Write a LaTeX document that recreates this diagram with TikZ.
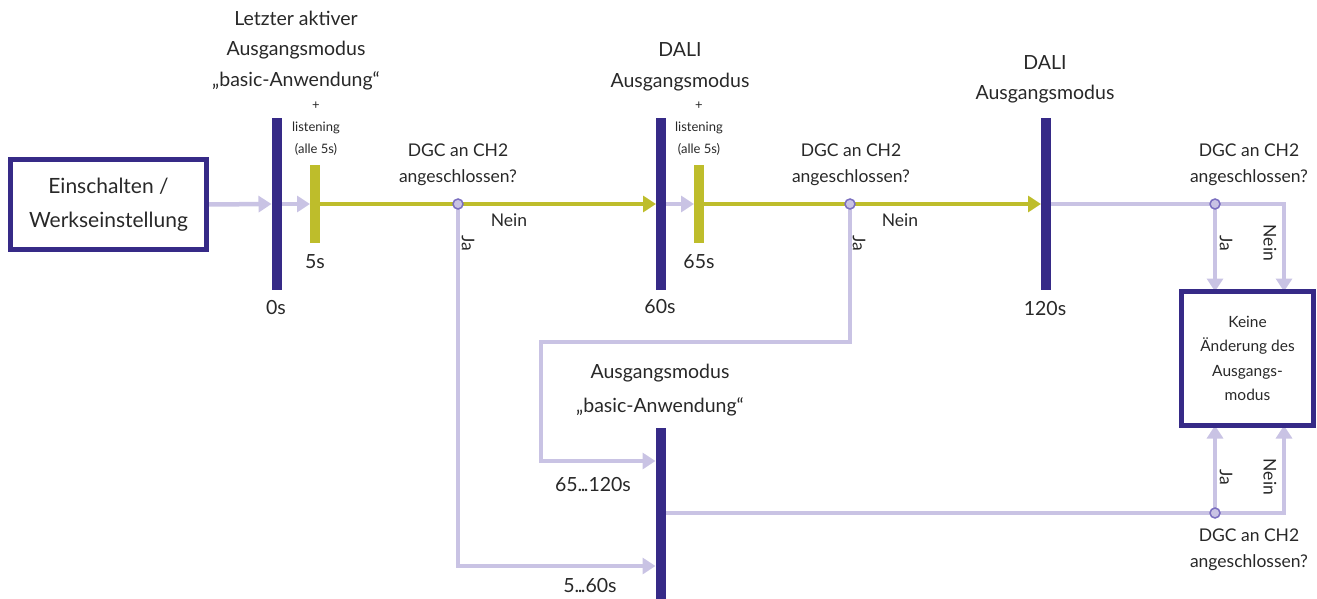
\documentclass[tikz,border=0pt]{standalone}
\usepackage{fontspec}
\setmainfont{Lato}
\usetikzlibrary{arrows.meta,backgrounds}
\definecolor{dpur}{RGB}{54,42,135}
\definecolor{lpur}{RGB}{201,195,228}
\definecolor{yel}{RGB}{190,189,43}
\definecolor{mpur}{RGB}{123,111,192}
\definecolor{txt}{RGB}{40,40,40}
\begin{document}
\begin{tikzpicture}[x=1pt,y=-1pt,
  every node/.style={text=txt, inner sep=0pt, outer sep=0pt},
  bar/.style={fill=dpur, minimum width=10pt, minimum height=172pt},
  ybar/.style={fill=yel, minimum width=10pt, minimum height=78pt},
  dot/.style={circle, fill=lpur, draw=mpur, line width=1.5pt, minimum size=10pt},
  lline/.style={draw=lpur, line width=4.5pt},
  yline/.style={draw=yel, line width=4.5pt},
  arr/.style={-{Triangle[length=13pt,width=16pt]}},
  big/.style={font=\fontsize{19.5}{30.5}\selectfont, align=center},
  bigb/.style={font=\fontsize{19.5}{34}\selectfont, align=center},
  mid/.style={font=\fontsize{17.5}{26}\selectfont, align=center},
  small/.style={font=\fontsize{13}{22}\selectfont, align=center},
  frame/.style={draw=dpur, line width=5pt, align=center}
]
\useasboundingbox (0,0) rectangle (1317,599);
% boxes
\node[frame, minimum width=196pt, minimum height=90pt, font=\fontsize{21}{34}\selectfont] (start) at (108.5,204.5) {Einschalten /\\Werkseinstellung};
\node[frame, minimum width=132pt, minimum height=134pt, font=\fontsize{15.5}{24.5}\selectfont] (box) at (1247.5,358.5) {Keine\\Änderung des\\Ausgangs-\\modus};
% bars
\node[bar] (b1) at (276.5,204) {};
\node[ybar] (y1) at (315,204) {};
\node[bar] (b2) at (661,204) {};
\node[ybar] (y2) at (699,204) {};
\node[bar] (b3) at (1046,204) {};
\node[bar] (b4) at (660.5,514) {};
% decision dots
\node[dot] (n1) at (458,204) {};
\node[dot] (n2) at (850,204) {};
\node[dot] (n3) at (1215,204) {};
\node[dot] (n4) at (1215,513) {};
% helper coordinates
\coordinate (k1) at (1284,204);
\coordinate (k2) at (1284,513);
\coordinate (k3) at (458,566);
\coordinate (k4) at (850,342);
\coordinate (k5) at (541,342);
\coordinate (k6) at (541,461);
% labels
\node[big] (t1) at (296,50.5) {Letzter aktiver\\Ausgangsmodus\\„basic-Anwendung“};
\node[small] (p1) at (316,129) {+\\listening\\(alle 5s)};
\node[mid] (q1) at (458,165) {DGC an CH2\\angeschlossen?};
\node[mid] (nein1) at (509,220) {Nein};
\node[mid, rotate=-90] (ja1) at (468,243) {Ja};
\node[big] (l0) at (276,308) {0s};
\node[big] (l5) at (315,262) {5s};
\node[big] (t2) at (680,67) {DALI\\Ausgangsmodus};
\node[small] (p2) at (699,129) {+\\listening\\(alle 5s)};
\node[big] (l60) at (660,307) {60s};
\node[big] (l65) at (699,262) {65s};
\node[mid] (q2) at (851,165) {DGC an CH2\\angeschlossen?};
\node[mid] (nein2) at (900,220) {Nein};
\node[mid, rotate=-90] (ja2) at (859,243) {Ja};
\node[big] (t3) at (1045,79.5) {DALI\\Ausgangsmodus};
\node[big] (l120) at (1045,309) {120s};
\node[mid] (q3) at (1249,165) {DGC an CH2\\angeschlossen?};
\node[mid, rotate=-90] (ja3) at (1226,243) {Ja};
\node[mid, rotate=-90] (nein3) at (1270,243) {Nein};
\node[mid, rotate=-90] (ja4) at (1226,477) {Ja};
\node[mid, rotate=-90] (nein4) at (1270,477) {Nein};
\node[mid] (q4) at (1249,550) {DGC an CH2\\angeschlossen?};
\node[bigb] (t4) at (660,390.5) {Ausgangsmodus\\„basic-Anwendung“};
\node[big] (l65b) at (593,485) {65.\kern-1.5pt.\kern-1.5pt.120s};
\node[big] (l5b) at (590,586) {5.\kern-1.5pt.\kern-1.5pt.60s};
% connectors
\begin{scope}[on background layer]
\draw[lline,arr] (start.east) -- (b1.west);
\draw[lline,arr] (b1.east) -- (y1.west);
\draw[yline,arr] (y1.east) -- (b2.west);
\draw[lline,arr] (b2.east) -- (y2.west);
\draw[yline,arr] (y2.east) -- (b3.west);
\draw[lline] (b3.east) -- (n3);
\draw[lline,arr] (n3) -- (n3 |- box.north);
\draw[lline,arr] (n3) -- (k1) -- (k1 |- box.north);
\draw[lline] (b4.east |- n4) -- (n4);
\draw[lline,arr] (n4) -- (n4 |- box.south);
\draw[lline,arr] (n4) -- (k2) -- (k2 |- box.south);
\draw[lline,arr] (n1) -- (k3) -- (b4.west |- k3);
\draw[lline,arr] (n2) -- (k4) -- (k5) -- (k6) -- (b4.west |- k6);
\end{scope}
\end{tikzpicture}
\end{document}
